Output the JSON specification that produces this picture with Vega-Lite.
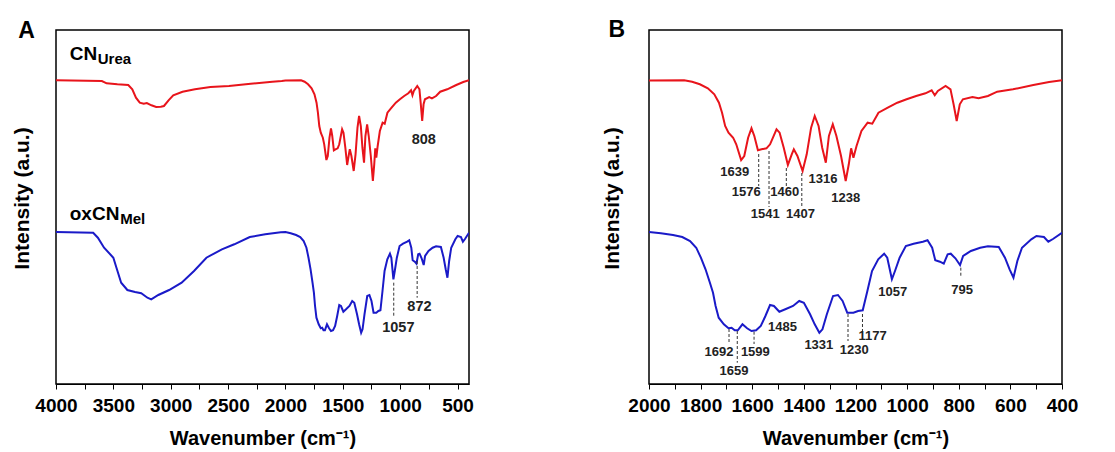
{
  "$schema": "https://vega.github.io/schema/vega-lite/v6.json",
  "padding": {"left": 10, "top": 18, "right": 5, "bottom": 5},
  "background": "white",
  "config": {
    "font": "Liberation Sans",
    "view": {"stroke": "black", "strokeWidth": 1.5},
    "axis": {"grid": false, "labelColor": "black", "titleColor": "black", "domainColor": "black", "tickColor": "black", "labelFontWeight": "bold", "titleFontWeight": "bold", "labelFontSize": 19, "titleFontSize": 20}
  },
  "datasets": {
    "spec": [
      {"s":"CNUrea","w":4000,"i":303.7},{"s":"CNUrea","w":3600,"i":303},{"s":"CNUrea","w":3559,"i":300.7},{"s":"CNUrea","w":3465,"i":299.7},{"s":"CNUrea","w":3370,"i":299},{"s":"CNUrea","w":3335,"i":294.7},{"s":"CNUrea","w":3303,"i":286.3},{"s":"CNUrea","w":3270,"i":281.3},{"s":"CNUrea","w":3235,"i":280.3},{"s":"CNUrea","w":3208,"i":281},{"s":"CNUrea","w":3168,"i":278.7},{"s":"CNUrea","w":3127,"i":277},{"s":"CNUrea","w":3086,"i":277.3},{"s":"CNUrea","w":3059,"i":278},{"s":"CNUrea","w":3019,"i":283.7},{"s":"CNUrea","w":2978,"i":288.7},{"s":"CNUrea","w":2897,"i":292.3},{"s":"CNUrea","w":2789,"i":294.7},{"s":"CNUrea","w":2654,"i":297},{"s":"CNUrea","w":2492,"i":298},{"s":"CNUrea","w":2303,"i":300.3},{"s":"CNUrea","w":2114,"i":302.3},{"s":"CNUrea","w":2032,"i":303},
      {"s":"CNUrea","w":2000,"i":303.5},{"s":"CNUrea","w":1864,"i":303.7},{"s":"CNUrea","w":1833,"i":302.3},{"s":"CNUrea","w":1803,"i":299.7},{"s":"CNUrea","w":1772,"i":295.7},{"s":"CNUrea","w":1747,"i":289.7},{"s":"CNUrea","w":1729,"i":281.3},{"s":"CNUrea","w":1717,"i":271.3},{"s":"CNUrea","w":1705,"i":258},{"s":"CNUrea","w":1692,"i":251.3},{"s":"CNUrea","w":1674,"i":246.3},{"s":"CNUrea","w":1662,"i":239.7},{"s":"CNUrea","w":1643,"i":224},{"s":"CNUrea","w":1631,"i":228},{"s":"CNUrea","w":1616,"i":246.3},{"s":"CNUrea","w":1603,"i":255.7},{"s":"CNUrea","w":1592,"i":248},{"s":"CNUrea","w":1578,"i":233.7},{"s":"CNUrea","w":1564,"i":234.7},{"s":"CNUrea","w":1545,"i":235.7},{"s":"CNUrea","w":1531,"i":239.7},{"s":"CNUrea","w":1506,"i":254.7},{"s":"CNUrea","w":1494,"i":251.3},{"s":"CNUrea","w":1478,"i":236.3},{"s":"CNUrea","w":1462,"i":219},{"s":"CNUrea","w":1447,"i":229.7},{"s":"CNUrea","w":1439,"i":234.7},{"s":"CNUrea","w":1425,"i":228},{"s":"CNUrea","w":1405,"i":213},{"s":"CNUrea","w":1389,"i":229.7},{"s":"CNUrea","w":1372,"i":256.3},{"s":"CNUrea","w":1358,"i":268},{"s":"CNUrea","w":1343,"i":258},{"s":"CNUrea","w":1329,"i":236.3},{"s":"CNUrea","w":1315,"i":221.3},{"s":"CNUrea","w":1303,"i":248},{"s":"CNUrea","w":1288,"i":259.7},{"s":"CNUrea","w":1274,"i":248},{"s":"CNUrea","w":1256,"i":228},{"s":"CNUrea","w":1238,"i":203},{"s":"CNUrea","w":1226,"i":219.7},{"s":"CNUrea","w":1217,"i":235.7},{"s":"CNUrea","w":1208,"i":226.3},{"s":"CNUrea","w":1196,"i":238},{"s":"CNUrea","w":1177,"i":253},{"s":"CNUrea","w":1153,"i":261.3},{"s":"CNUrea","w":1135,"i":260.3},{"s":"CNUrea","w":1111,"i":271.3},{"s":"CNUrea","w":1075,"i":276.3},{"s":"CNUrea","w":1038,"i":281.3},{"s":"CNUrea","w":1002,"i":284.7},{"s":"CNUrea","w":965,"i":288},{"s":"CNUrea","w":929,"i":290.7},{"s":"CNUrea","w":905,"i":293.7},{"s":"CNUrea","w":893,"i":288.7},{"s":"CNUrea","w":881,"i":293},{"s":"CNUrea","w":851,"i":298},{"s":"CNUrea","w":832,"i":294.7},{"s":"CNUrea","w":820,"i":279.7},{"s":"CNUrea","w":808,"i":263},{"s":"CNUrea","w":796,"i":279.7},{"s":"CNUrea","w":784,"i":284.7},{"s":"CNUrea","w":747,"i":287},{"s":"CNUrea","w":723,"i":285.7},{"s":"CNUrea","w":687,"i":288},{"s":"CNUrea","w":651,"i":292.3},{"s":"CNUrea","w":590,"i":294.7},{"s":"CNUrea","w":511,"i":299},{"s":"CNUrea","w":450,"i":302},{"s":"CNUrea","w":400,"i":303.7},
      {"s":"oxCNMel","w":4000,"i":152},{"s":"oxCNMel","w":3676,"i":151.3},{"s":"oxCNMel","w":3635,"i":146.3},{"s":"oxCNMel","w":3581,"i":136.3},{"s":"oxCNMel","w":3500,"i":126.3},{"s":"oxCNMel","w":3473,"i":116.3},{"s":"oxCNMel","w":3432,"i":101.3},{"s":"oxCNMel","w":3378,"i":94},{"s":"oxCNMel","w":3311,"i":92},{"s":"oxCNMel","w":3257,"i":90.7},{"s":"oxCNMel","w":3203,"i":86.3},{"s":"oxCNMel","w":3170,"i":84.7},{"s":"oxCNMel","w":3108,"i":89},{"s":"oxCNMel","w":3014,"i":94},{"s":"oxCNMel","w":2905,"i":101.3},{"s":"oxCNMel","w":2797,"i":113},{"s":"oxCNMel","w":2689,"i":126.3},{"s":"oxCNMel","w":2554,"i":134.7},{"s":"oxCNMel","w":2446,"i":139.7},{"s":"oxCNMel","w":2311,"i":147},{"s":"oxCNMel","w":2176,"i":149.7},{"s":"oxCNMel","w":2041,"i":151.7},
      {"s":"oxCNMel","w":2000,"i":152},{"s":"oxCNMel","w":1954,"i":150.7},{"s":"oxCNMel","w":1907,"i":149},{"s":"oxCNMel","w":1871,"i":147},{"s":"oxCNMel","w":1841,"i":143},{"s":"oxCNMel","w":1817,"i":136.3},{"s":"oxCNMel","w":1799,"i":126.3},{"s":"oxCNMel","w":1781,"i":114.7},{"s":"oxCNMel","w":1764,"i":101.3},{"s":"oxCNMel","w":1752,"i":91.3},{"s":"oxCNMel","w":1742,"i":78},{"s":"oxCNMel","w":1730,"i":66.3},{"s":"oxCNMel","w":1710,"i":59.7},{"s":"oxCNMel","w":1692,"i":55.7},{"s":"oxCNMel","w":1680,"i":56.3},{"s":"oxCNMel","w":1668,"i":53.7},{"s":"oxCNMel","w":1656,"i":53.7},{"s":"oxCNMel","w":1638,"i":59.7},{"s":"oxCNMel","w":1620,"i":55.7},{"s":"oxCNMel","w":1603,"i":53},{"s":"oxCNMel","w":1585,"i":53.7},{"s":"oxCNMel","w":1567,"i":58},{"s":"oxCNMel","w":1549,"i":68},{"s":"oxCNMel","w":1531,"i":79},{"s":"oxCNMel","w":1516,"i":78},{"s":"oxCNMel","w":1495,"i":72.3},{"s":"oxCNMel","w":1472,"i":74.7},{"s":"oxCNMel","w":1442,"i":78},{"s":"oxCNMel","w":1418,"i":83},{"s":"oxCNMel","w":1400,"i":81.3},{"s":"oxCNMel","w":1376,"i":69.7},{"s":"oxCNMel","w":1358,"i":59.7},{"s":"oxCNMel","w":1340,"i":51.3},{"s":"oxCNMel","w":1328,"i":54.7},{"s":"oxCNMel","w":1311,"i":69.7},{"s":"oxCNMel","w":1287,"i":88},{"s":"oxCNMel","w":1268,"i":89},{"s":"oxCNMel","w":1250,"i":83},{"s":"oxCNMel","w":1232,"i":71.3},{"s":"oxCNMel","w":1208,"i":71.3},{"s":"oxCNMel","w":1190,"i":73},{"s":"oxCNMel","w":1172,"i":73.7},{"s":"oxCNMel","w":1154,"i":93},{"s":"oxCNMel","w":1136,"i":113},{"s":"oxCNMel","w":1112,"i":124.7},{"s":"oxCNMel","w":1089,"i":130.3},{"s":"oxCNMel","w":1077,"i":126.3},{"s":"oxCNMel","w":1059,"i":104.7},{"s":"oxCNMel","w":1047,"i":113},{"s":"oxCNMel","w":1029,"i":126.3},{"s":"oxCNMel","w":1005,"i":138},{"s":"oxCNMel","w":975,"i":140.3},{"s":"oxCNMel","w":939,"i":142.3},{"s":"oxCNMel","w":921,"i":143.7},{"s":"oxCNMel","w":903,"i":136.3},{"s":"oxCNMel","w":891,"i":123.7},{"s":"oxCNMel","w":873,"i":122.3},{"s":"oxCNMel","w":858,"i":120.3},{"s":"oxCNMel","w":843,"i":129.7},{"s":"oxCNMel","w":831,"i":130.3},{"s":"oxCNMel","w":813,"i":125.7},{"s":"oxCNMel","w":795,"i":119},{"s":"oxCNMel","w":783,"i":128},{"s":"oxCNMel","w":753,"i":133},{"s":"oxCNMel","w":717,"i":136.3},{"s":"oxCNMel","w":687,"i":137.7},{"s":"oxCNMel","w":645,"i":137},{"s":"oxCNMel","w":621,"i":126.3},{"s":"oxCNMel","w":603,"i":114.7},{"s":"oxCNMel","w":588,"i":106.3},{"s":"oxCNMel","w":573,"i":123},{"s":"oxCNMel","w":555,"i":136.3},{"s":"oxCNMel","w":519,"i":144.7},{"s":"oxCNMel","w":499,"i":148},{"s":"oxCNMel","w":470,"i":147},{"s":"oxCNMel","w":453,"i":142.3},{"s":"oxCNMel","w":435,"i":145},{"s":"oxCNMel","w":400,"i":151.3}
    ],
    "dash": [
      {"p":"A","w":1056,"i1":101.3,"i2":68},{"p":"A","w":852,"i1":123,"i2":86.3},
      {"p":"B","w":1575,"i1":230,"i2":198},{"p":"B","w":1535,"i1":233,"i2":177},{"p":"B","w":1468,"i1":216,"i2":198},{"p":"B","w":1408,"i1":211,"i2":177},
      {"p":"B","w":1690,"i1":55,"i2":40},{"p":"B","w":1658,"i1":53,"i2":21.3},{"p":"B","w":1593,"i1":52.3,"i2":40},{"p":"B","w":1229,"i1":70,"i2":43},{"p":"B","w":1173,"i1":70,"i2":51.3},{"p":"B","w":792,"i1":116.3,"i2":106.3}
    ],
    "ann": [
      {"p":"A","w":794,"i":240.3,"t":"808"},{"p":"A","w":1016,"i":52.3,"t":"1057"},{"p":"A","w":832,"i":73,"t":"872"},
      {"p":"B","w":1668,"i":208,"t":"1639"},{"p":"B","w":1623,"i":188,"t":"1576"},{"p":"B","w":1474,"i":188,"t":"1460"},{"p":"B","w":1550,"i":165.7,"t":"1541"},{"p":"B","w":1413,"i":165.7,"t":"1407"},{"p":"B","w":1326,"i":201.3,"t":"1316"},{"p":"B","w":1238,"i":182,"t":"1238"},
      {"p":"B","w":1729,"i":28,"t":"1692"},{"p":"B","w":1671,"i":9,"t":"1659"},{"p":"B","w":1588,"i":28,"t":"1599"},{"p":"B","w":1483,"i":53,"t":"1485"},{"p":"B","w":1342,"i":34.7,"t":"1331"},{"p":"B","w":1205,"i":29.7,"t":"1230"},{"p":"B","w":1134,"i":43.7,"t":"1177"},{"p":"B","w":1056,"i":88,"t":"1057"},{"p":"B","w":787,"i":90.3,"t":"795"}
    ],
    "names": [
      {"w":3880,"i":324,"t":"CN"},{"w":3880,"i":164,"t":"oxCN"}
    ],
    "subs": [
      {"w":3636,"i":320,"t":"Urea"},{"w":3440,"i":160,"t":"Mel"}
    ],
    "panelA": [{"w":4256,"i":346,"t":"A"}],
    "panelB": [{"w":2125,"i":347,"t":"B"}]
  },
  "spacing": 125,
  "hconcat": [
    {
      "width": 413, "height": 354,
      "encoding": {
        "x": {"type": "quantitative", "scale": {"domain": [400, 4000], "reverse": true, "nice": false},
              "axis": {"title": "Wavenumber (cm⁻¹)", "values": [4000,3750,3500,3250,3000,2750,2500,2250,2000,1750,1500,1250,1000,750,500], "labelExpr": "datum.value % 500 === 0 ? datum.label : ''", "format": "d", "tickSize": 5, "labelPadding": 7, "titlePadding": 13, "labelFlush": false, "labelOverlap": false}},
        "y": {"type": "quantitative", "scale": {"domain": [0, 354], "nice": false},
              "axis": {"title": "Intensity (a.u.)", "labels": false, "ticks": false, "domain": false, "titlePadding": 24, "titleFontSize": 21, "titleY": 168}}
      },
      "layer": [
        {"data": {"name": "spec"}, "mark": {"type": "line", "strokeWidth": 2, "clip": true},
         "encoding": {"x": {"field": "w"}, "y": {"field": "i"},
                      "color": {"field": "s", "type": "nominal", "scale": {"domain": ["CNUrea", "oxCNMel"], "range": ["#e8141b", "#1a1ac8"]}, "legend": null}}},
        {"data": {"name": "dash"}, "transform": [{"filter": "datum.p === 'A'"}], "mark": {"type": "rule", "strokeDash": [3, 2], "strokeWidth": 1, "color": "#333"},
         "encoding": {"x": {"field": "w"}, "y": {"field": "i1"}, "y2": {"field": "i2"}}},
        {"data": {"name": "ann"}, "transform": [{"filter": "datum.p === 'A'"}], "mark": {"type": "text", "fontSize": 14.5, "fontWeight": "bold", "color": "#222", "align": "center", "baseline": "alphabetic"},
         "encoding": {"x": {"field": "w"}, "y": {"field": "i"}, "text": {"field": "t"}}},
        {"data": {"name": "names"}, "mark": {"type": "text", "fontSize": 19, "fontWeight": "bold", "color": "black", "align": "left", "baseline": "alphabetic"},
         "encoding": {"x": {"field": "w"}, "y": {"field": "i"}, "text": {"field": "t"}}},
        {"data": {"name": "subs"}, "mark": {"type": "text", "fontSize": 15, "fontWeight": "bold", "color": "black", "align": "left", "baseline": "alphabetic"},
         "encoding": {"x": {"field": "w"}, "y": {"field": "i"}, "text": {"field": "t"}}},
        {"data": {"name": "panelA"}, "mark": {"type": "text", "fontSize": 23, "fontWeight": "bold", "color": "black", "align": "center", "baseline": "alphabetic", "clip": false},
         "encoding": {"x": {"field": "w"}, "y": {"field": "i"}, "text": {"field": "t"}}}
      ]
    },
    {
      "width": 413, "height": 354,
      "encoding": {
        "x": {"type": "quantitative", "scale": {"domain": [400, 2000], "reverse": true, "nice": false},
              "axis": {"title": "Wavenumber (cm⁻¹)", "values": [2000,1900,1800,1700,1600,1500,1400,1300,1200,1100,1000,900,800,700,600,500,400], "labelExpr": "datum.value % 200 === 0 ? datum.label : ''", "format": "d", "tickSize": 5, "labelPadding": 7, "titlePadding": 13, "labelFlush": false, "labelOverlap": false}},
        "y": {"type": "quantitative", "scale": {"domain": [0, 354], "nice": false},
              "axis": {"title": "Intensity (a.u.)", "labels": false, "ticks": false, "domain": false, "titlePadding": 27, "titleFontSize": 21, "titleY": 168}}
      },
      "layer": [
        {"data": {"name": "spec"}, "transform": [{"filter": "datum.w <= 2000"}], "mark": {"type": "line", "strokeWidth": 2, "clip": true},
         "encoding": {"x": {"field": "w"}, "y": {"field": "i"},
                      "color": {"field": "s", "type": "nominal", "scale": {"domain": ["CNUrea", "oxCNMel"], "range": ["#e8141b", "#1a1ac8"]}, "legend": null}}},
        {"data": {"name": "dash"}, "transform": [{"filter": "datum.p === 'B'"}], "mark": {"type": "rule", "strokeDash": [3, 2], "strokeWidth": 1, "color": "#333"},
         "encoding": {"x": {"field": "w"}, "y": {"field": "i1"}, "y2": {"field": "i2"}}},
        {"data": {"name": "ann"}, "transform": [{"filter": "datum.p === 'B'"}], "mark": {"type": "text", "fontSize": 13, "fontWeight": "bold", "color": "#222", "align": "center", "baseline": "alphabetic"},
         "encoding": {"x": {"field": "w"}, "y": {"field": "i"}, "text": {"field": "t"}}},
        {"data": {"name": "panelB"}, "mark": {"type": "text", "fontSize": 23, "fontWeight": "bold", "color": "black", "align": "center", "baseline": "alphabetic", "clip": false},
         "encoding": {"x": {"field": "w"}, "y": {"field": "i"}, "text": {"field": "t"}}}
      ]
    }
  ]
}
